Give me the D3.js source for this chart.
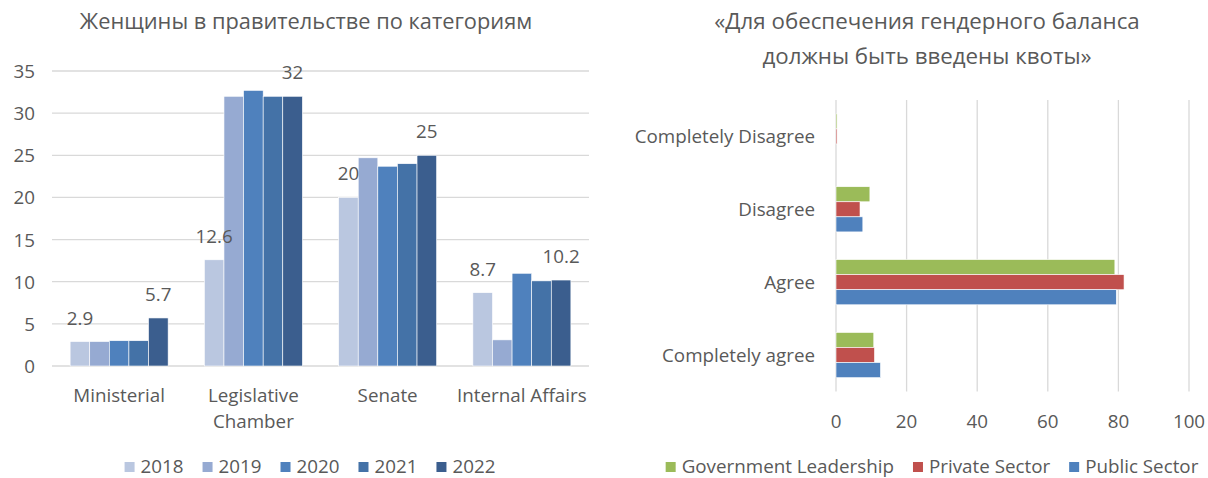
<!DOCTYPE html>
<html>
<head>
<meta charset="utf-8">
<script src="https://cdn.jsdelivr.net/npm/d3@7"></script>
<style>
  body { margin: 0; background: #fff; }
  svg text { font-family: "Open Sans", "Noto Sans", sans-serif; fill: #595959; }
</style>
</head>
<body>
<svg id="chart" width="1208" height="478"></svg>
<script>
// левый график
const categories = ['Ministerial', 'Legislative Chamber', 'Senate', 'Internal Affairs'];
const years = ['2018', '2019', '2020', '2021', '2022'];
const values2018 = [2.9, 12.6, 20, 8.7];
const values2019 = [2.9, 32, 24.7, 3.1];
const values2020 = [3.0, 32.7, 23.7, 11];
const values2021 = [3.0, 32, 24, 10.1];
const values2022 = [5.7, 32, 25, 10.2];
const yTicks = [0, 5, 10, 15, 20, 25, 30, 35];
const leftTitle = 'Женщины в правительстве по категориям';

// правый график
const answers = ['Completely Disagree', 'Disagree', 'Agree', 'Completely agree'];
const sectors = ['Government Leadership', 'Private Sector', 'Public Sector'];
const governmentValues = [0.3, 9.6, 79, 10.7];
const privateValues = [0.3, 6.8, 81.6, 10.9];
const publicValues = [0, 7.6, 79.4, 12.6];
const xTicks = [0, 20, 40, 60, 80, 100];
const rightTitle = ['«Для обеспечения гендерного баланса', 'должны быть введены квоты»'];

const svg = d3.select('#chart');
const gridColor = '#d9d9d9';
const fs = '18.8px';

/* ---------- график 1 ---------- */
const yearValues = [values2018, values2019, values2020, values2021, values2022];
const yearColors = ['#bac7e0', '#96aad2', '#4f81bd', '#4472a7', '#3b5e8e'];
// какие подписи показаны: [категория, год]
const shownLabels = [[0, 0], [0, 4], [1, 0], [1, 4], [2, 0], [2, 4], [3, 0], [3, 4]];

const x0 = d3.scaleBand().domain(categories).range([52, 589]).paddingInner(0.27).paddingOuter(0.135);
const x1 = d3.scaleBand().domain(years).range([0, x0.bandwidth()]);
const y = d3.scaleLinear().domain([0, 35]).range([366, 71]);

const left = svg.append('g');

left.append('text')
  .attr('x', 306).attr('y', 29)
  .attr('text-anchor', 'middle')
  .style('font-size', '21.8px')
  .text(leftTitle);

left.selectAll('line.grid')
  .data(yTicks)
  .enter()
  .append('line')
  .attr('x1', 52).attr('x2', 589)
  .attr('y1', d => y(d)).attr('y2', d => y(d))
  .attr('stroke', gridColor)
  .attr('stroke-width', 1.3);

left.selectAll('text.ytick')
  .data(yTicks)
  .enter()
  .append('text')
  .attr('x', 35)
  .attr('y', d => y(d) + 7)
  .attr('text-anchor', 'end')
  .style('font-size', fs)
  .text(d => d);

categories.forEach((cat, ci) => {
  years.forEach((yr, yi) => {
    const v = yearValues[yi][ci];
    left.append('rect')
      .attr('x', x0(cat) + x1(yr))
      .attr('y', y(v))
      .attr('width', x1.bandwidth())
      .attr('height', y(0) - y(v))
      .attr('fill', yearColors[yi])
      .attr('stroke', '#fff')
      .attr('stroke-width', 0.6);
  });
  const lines = cat === 'Internal Affairs' ? [cat] : cat.split(' ');
  lines.forEach((w, li) => {
    left.append('text')
      .attr('x', x0(cat) + x0.bandwidth() / 2)
      .attr('y', 402 + li * 26)
      .attr('text-anchor', 'middle')
      .style('font-size', fs)
      .text(w);
  });
});

shownLabels.forEach(([ci, yi]) => {
  const v = yearValues[yi][ci];
  left.append('text')
    .attr('x', x0(categories[ci]) + x1(years[yi]) + x1.bandwidth() / 2)
    .attr('y', y(v) - 17)
    .attr('text-anchor', 'middle')
    .style('font-size', fs)
    .text(v);
});

// легенда
function legend(g, names, colors, cx, cy) {
  const items = g.append('g');
  let pos = 0;
  names.forEach((n, i) => {
    items.append('rect')
      .attr('x', pos).attr('y', cy - 5)
      .attr('width', 10).attr('height', 10)
      .attr('fill', colors[i]);
    const t = items.append('text')
      .attr('x', pos + 16).attr('y', cy + 6)
      .style('font-size', fs)
      .text(n);
    pos += 16 + t.node().getComputedTextLength() + 19;
  });
  pos -= 19;
  items.attr('transform', `translate(${cx - pos / 2},0)`);
}
legend(left, years, yearColors, 310, 467);

/* ---------- график 2 ---------- */
const sectorValues = [governmentValues, privateValues, publicValues];
const sectorColors = ['#9bbb59', '#c0504d', '#4f81bd'];

const xs = d3.scaleLinear().domain([0, 100]).range([836, 1189]);
const ys0 = d3.scaleBand().domain(answers).range([100, 391.5]).paddingInner(0.38).paddingOuter(0.19);
const ys1 = d3.scaleBand().domain(sectors).range([0, ys0.bandwidth()]);

const right = svg.append('g');

rightTitle.forEach((line, i) => {
  right.append('text')
    .attr('x', 927).attr('y', 29 + i * 35)
    .attr('text-anchor', 'middle')
    .style('font-size', '22.3px')
    .text(line);
});

right.selectAll('line.grid')
  .data(xTicks)
  .enter()
  .append('line')
  .attr('x1', d => xs(d)).attr('x2', d => xs(d))
  .attr('y1', 100).attr('y2', 391.5)
  .attr('stroke', gridColor)
  .attr('stroke-width', 1.3);

right.selectAll('text.xtick')
  .data(xTicks)
  .enter()
  .append('text')
  .attr('x', d => xs(d))
  .attr('y', 428)
  .attr('text-anchor', 'middle')
  .style('font-size', fs)
  .text(d => d);

answers.forEach((a, ai) => {
  sectors.forEach((s, si) => {
    const v = sectorValues[si][ai];
    if (v <= 0) return;
    right.append('rect')
      .attr('x', xs(0))
      .attr('y', ys0(a) + ys1(s))
      .attr('width', xs(v) - xs(0))
      .attr('height', ys1.bandwidth())
      .attr('fill', sectorColors[si])
      .attr('stroke', '#fff')
      .attr('stroke-width', 0.6);
  });
  right.append('text')
    .attr('x', 815)
    .attr('y', ys0(a) + ys0.bandwidth() / 2 + 7)
    .attr('text-anchor', 'end')
    .style('font-size', fs)
    .text(a);
});

legend(right, sectors, sectorColors, 932, 467);
</script>
</body>
</html>
